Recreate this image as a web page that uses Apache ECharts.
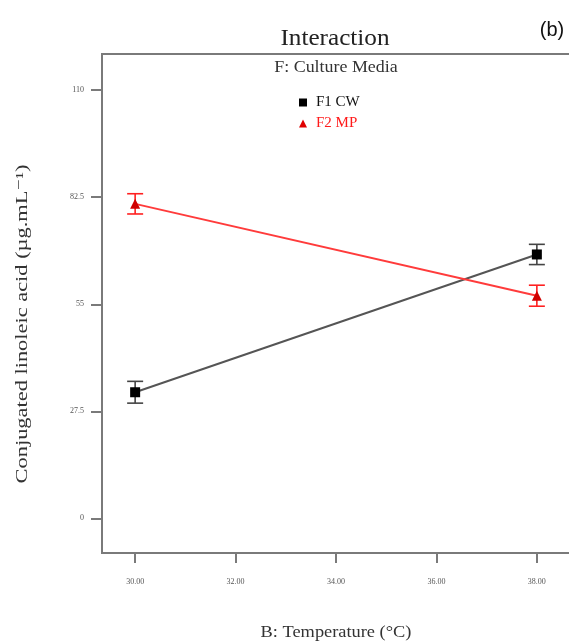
<!DOCTYPE html>
<html>
<head>
<meta charset="utf-8">
<script src="https://cdn.jsdelivr.net/npm/echarts@6/dist/echarts.min.js"></script>
<style>
  html, body { margin: 0; padding: 0; background: #fff; }
  #chart { width: 569px; height: 644px; }
</style>
</head>
<body>
<div id="chart"></div>
<script>
// Factor levels on the temperature axis (°C)
const temperatures = [30, 38];
const xTickValues = [30, 32, 34, 36, 38];
const yTickValues = [0, 27.5, 55, 82.5, 110];

// F1 CW: mean and error half-width at each temperature
const cwMeans = [32.4, 67.8];
const cwErrors = [2.8, 2.6];

// F2 MP: mean and error half-width at each temperature
const mpMeans = [80.8, 57.2];
const mpErrors = [2.6, 2.7];

const serif = '"Liberation Serif", "DejaVu Serif", serif';

function points(means) {
  return temperatures.map((t, i) => [t, means[i]]);
}
function errorBars(means, errs) {
  return temperatures.map((t, i) => [t, means[i] - errs[i], means[i] + errs[i]]);
}

function errorBarSeries(name, means, errs, color) {
  return {
    type: 'custom',
    name: name,
    z: 3,
    data: errorBars(means, errs),
    encode: { x: 0, y: [1, 2] },
    renderItem: function (params, api) {
      const x = api.value(0);
      const low = api.coord([x, api.value(1)]);
      const high = api.coord([x, api.value(2)]);
      const half = 8;
      const style = { stroke: color, lineWidth: 1.6 };
      return {
        type: 'group',
        children: [
          { type: 'line', shape: { x1: low[0], y1: low[1], x2: high[0], y2: high[1] }, style: style },
          { type: 'line', shape: { x1: low[0] - half, y1: low[1], x2: low[0] + half, y2: low[1] }, style: style },
          { type: 'line', shape: { x1: high[0] - half, y1: high[1], x2: high[0] + half, y2: high[1] }, style: style }
        ]
      };
    }
  };
}

const chart = echarts.init(document.getElementById('chart'), null, { renderer: 'canvas' });

chart.setOption({
  animation: false,
  backgroundColor: '#fff',
  grid: {
    left: 102, right: -1, top: 54, bottom: 91,
    outerBoundsMode: 'none',
    show: true, borderColor: '#7a7a7a', borderWidth: 2, backgroundColor: 'transparent'
  },
  legend: {
    orient: 'vertical',
    left: 294,
    top: 90,
    itemGap: 6,
    itemWidth: 8,
    itemHeight: 8,
    textStyle: { fontFamily: serif, fontSize: 15, padding: [0, 0, 0, 4] },
    data: [
      { name: 'F1 CW', icon: 'rect', itemStyle: { color: '#000' }, textStyle: { color: '#111' } },
      { name: 'F2 MP', icon: 'triangle', itemStyle: { color: '#e00000' }, textStyle: { color: '#ff1a1a' } }
    ]
  },
  xAxis: {
    type: 'value',
    min: 29.34,
    max: 38.66,
    axisLine: { show: false, onZero: false },
    splitLine: { show: false },
    axisTick: { show: true, length: 10, lineStyle: { color: '#7a7a7a', width: 2 }, customValues: xTickValues },
    axisLabel: {
      customValues: xTickValues,
      formatter: v => v.toFixed(2),
      fontFamily: serif, fontSize: 8, color: '#555', margin: 25
    }
  },
  yAxis: {
    type: 'value',
    min: -8.9,
    max: 119.3,
    axisLine: { show: false, onZero: false },
    splitLine: { show: false },
    axisTick: { show: true, length: 11, lineStyle: { color: '#7a7a7a', width: 2 }, customValues: yTickValues },
    axisLabel: {
      customValues: yTickValues,
      formatter: v => String(v),
      fontFamily: serif, fontSize: 8, color: '#555', margin: 18
    }
  },
  graphic: [
    { type: 'text', x: 335, y: 39, scaleX: 1.05, style: { text: 'Interaction', font: '24px ' + serif, fill: '#222', align: 'center', verticalAlign: 'middle' } },
    { type: 'text', x: 336, y: 68, scaleX: 1.12, style: { text: 'F: Culture Media', font: '16px ' + serif, fill: '#333', align: 'center', verticalAlign: 'middle' } },
    { type: 'text', x: 552, y: 30, style: { text: '(b)', font: '20px "Liberation Sans", Arial, sans-serif', fill: '#111', align: 'center', verticalAlign: 'middle' } },
    { type: 'text', x: 336, y: 633, scaleX: 1.08, style: { text: 'B: Temperature (°C)', font: '17px ' + serif, fill: '#333', align: 'center', verticalAlign: 'middle' } },
    { type: 'text', x: 23, y: 324, rotation: Math.PI / 2, scaleX: 1.4, style: { text: 'Conjugated linoleic acid (µg.mL⁻¹)', font: '16px ' + serif, fill: '#333', align: 'center', verticalAlign: 'middle' } }
  ],
  series: [
    {
      type: 'line',
      name: 'F1 CW',
      data: points(cwMeans),
      z: 4,
      symbol: 'rect',
      symbolSize: 10,
      itemStyle: { color: '#000' },
      lineStyle: { color: '#555', width: 2 }
    },
    {
      type: 'line',
      name: 'F2 MP',
      data: points(mpMeans),
      z: 4,
      symbol: 'triangle',
      symbolSize: 10,
      itemStyle: { color: '#d00000' },
      lineStyle: { color: '#ff3b3b', width: 2 }
    },
    errorBarSeries('cw-error', cwMeans, cwErrors, '#444'),
    errorBarSeries('mp-error', mpMeans, mpErrors, '#ff2020')
  ]
});
</script>
</body>
</html>
